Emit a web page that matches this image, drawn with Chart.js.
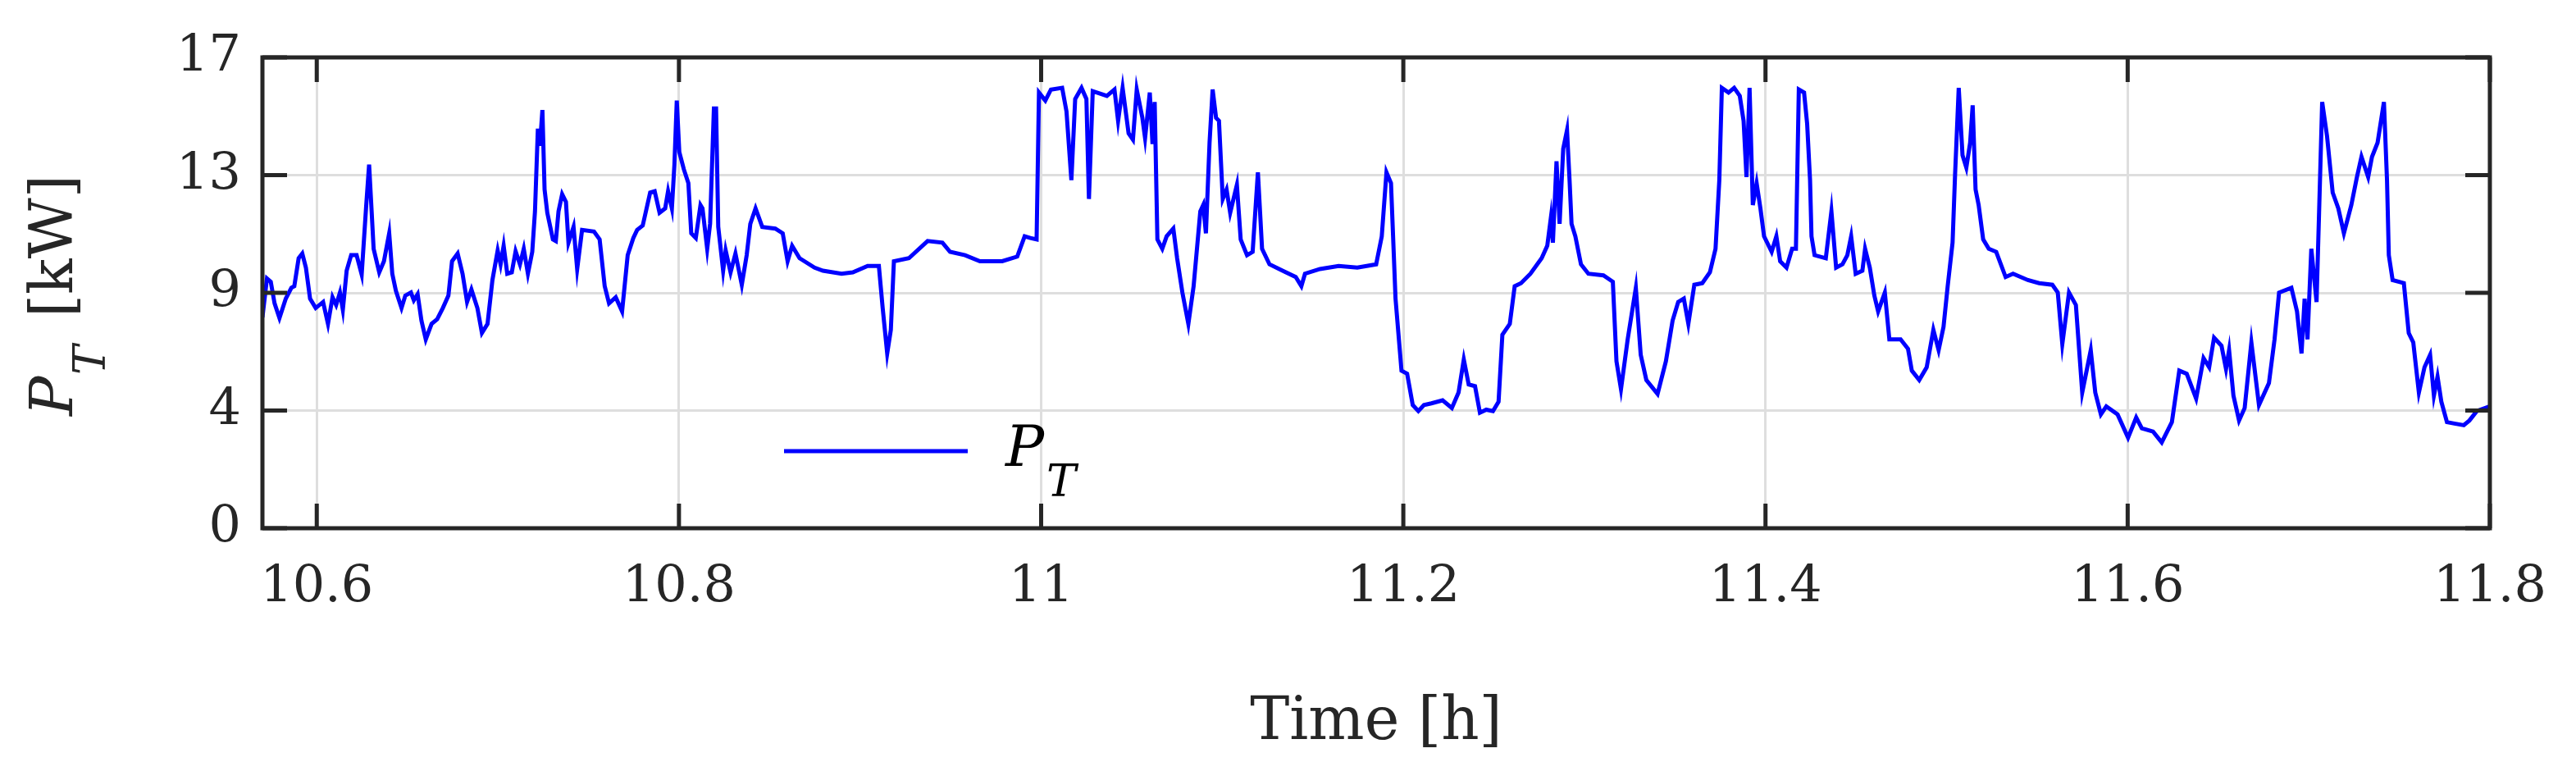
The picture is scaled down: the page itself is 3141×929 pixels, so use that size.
<!DOCTYPE html>
<html><head><meta charset="utf-8">
<script src="https://cdn.jsdelivr.net/npm/chart.js@4"></script>
<style>html,body{margin:0;padding:0;background:#fff}</style>
</head><body>
<canvas id="c" width="3141" height="929"></canvas>
<script>
const timeH = [10.570,10.5725,10.5746,10.5767,10.5794,10.5829,10.586,10.5876,10.590,10.592,10.594,10.5963,10.5994,10.6035,10.6062,10.6087,10.6107,10.6128,10.6144,10.6165,10.619,10.622,10.6248,10.6272,10.6289,10.6303,10.6314,10.6345,10.6371,10.64,10.6417,10.6437,10.6468,10.6489,10.652,10.6536,10.6557,10.6578,10.6602,10.6634,10.6665,10.6696,10.6727,10.6747,10.6778,10.6805,10.683,10.6854,10.6887,10.6912,10.6943,10.697,10.6999,10.7015,10.7032,10.7052,10.7077,10.7098,10.7122,10.7143,10.7166,10.719,10.7205,10.7221,10.7232,10.7246,10.7258,10.7273,10.7304,10.732,10.7335,10.7355,10.7376,10.739,10.7418,10.7438,10.7465,10.7531,10.7562,10.759,10.7614,10.7651,10.7686,10.7717,10.7748,10.7769,10.78,10.7841,10.7866,10.7893,10.7924,10.794,10.7961,10.7975,10.7988,10.8002,10.8027,10.8052,10.8068,10.8093,10.8119,10.813,10.8156,10.8172,10.8193,10.8205,10.8217,10.8244,10.8258,10.8285,10.8312,10.8347,10.8374,10.8394,10.8423,10.846,10.8532,10.8573,10.86,10.8625,10.8666,10.8749,10.8795,10.8898,10.896,10.9042,10.9104,10.9125,10.915,10.917,10.9187,10.927,10.9373,10.9455,10.9497,10.958,10.9662,10.9785,10.9868,10.9909,10.994,10.9975,10.9988,11.0023,11.0054,11.0116,11.0140,11.0167,11.0188,11.0223,11.025,11.0264,11.0285,11.0363,11.0405,11.0425,11.045,11.0483,11.0507,11.0528,11.0559,11.0574,11.06,11.0615,11.0627,11.0642,11.0669,11.0693,11.073,11.0751,11.078,11.0813,11.0842,11.0879,11.0895,11.091,11.093,11.0947,11.0966,11.0982,11.1003,11.1024,11.1044,11.1081,11.1102,11.1137,11.1168,11.1197,11.122,11.1261,11.1333,11.1406,11.1437,11.1457,11.154,11.1643,11.1746,11.185,11.1881,11.1907,11.1932,11.1957,11.199,11.2021,11.2052,11.2083,11.2114,11.2155,11.2217,11.2268,11.2305,11.2334,11.2361,11.2396,11.2423,11.2458,11.2495,11.2526,11.2547,11.2588,11.2615,11.265,11.2702,11.2764,11.2795,11.2815,11.2826,11.2846,11.2863,11.2883,11.2904,11.2918,11.2929,11.295,11.2981,11.3022,11.3105,11.3157,11.3177,11.3202,11.3239,11.3284,11.3311,11.3342,11.3404,11.345,11.3487,11.3518,11.3549,11.3574,11.3607,11.3651,11.3693,11.3724,11.3745,11.3759,11.3796,11.3827,11.3858,11.3879,11.3895,11.3912,11.393,11.3951,11.3972,11.3992,11.4034,11.406,11.4081,11.4116,11.4147,11.4168,11.4184,11.4213,11.423,11.4246,11.4254,11.4271,11.4333,11.4364,11.439,11.4425,11.4452,11.4473,11.4498,11.4535,11.455,11.4576,11.4601,11.4622,11.4659,11.4684,11.4746,11.4787,11.4808,11.4849,11.489,11.4927,11.4956,11.4983,11.5006,11.5033,11.5047,11.5067,11.5088,11.5109,11.513,11.5144,11.516,11.5177,11.5202,11.5233,11.5274,11.5326,11.5367,11.5449,11.5511,11.5584,11.5614,11.5639,11.5676,11.5714,11.5749,11.5796,11.5821,11.5852,11.5882,11.5944,11.6002,11.6047,11.6078,11.614,11.6188,11.6244,11.6285,11.6326,11.6378,11.6419,11.645,11.6477,11.6518,11.6543,11.656,11.6584,11.6615,11.6646,11.6683,11.6725,11.678,11.6811,11.6836,11.6904,11.6935,11.696,11.6977,11.6993,11.7014,11.7043,11.706,11.7074,11.7101,11.7132,11.7163,11.7194,11.7235,11.7266,11.7291,11.7328,11.7349,11.738,11.7415,11.7432,11.7442,11.7463,11.7525,11.7552,11.7577,11.7608,11.7639,11.767,11.7691,11.7711,11.7732,11.7763,11.7804,11.7856,11.7887,11.7928,11.8];
const powerKW = [7.61,9.02,8.9,8.12,7.59,8.29,8.68,8.74,9.75,9.92,9.41,8.29,7.95,8.17,7.38,8.34,8.06,8.51,7.89,9.3,9.86,9.86,9.16,11.55,13.13,11.44,10.09,9.24,9.64,10.65,9.19,8.57,7.95,8.40,8.51,8.23,8.45,7.5,6.82,7.38,7.55,7.95,8.40,9.64,9.92,9.19,8.17,8.62,7.95,7.05,7.38,8.96,10.03,9.53,10.2,9.19,9.24,10.0,9.53,10.09,9.19,9.98,11.44,14.43,13.81,15.1,12.23,11.39,10.43,10.37,11.44,12.06,11.78,10.31,10.88,9.36,10.77,10.71,10.43,8.74,8.12,8.34,7.83,9.86,10.48,10.77,10.93,12.12,12.17,11.39,11.55,12.17,11.55,13.13,15.44,13.58,12.96,12.46,10.65,10.48,11.67,11.55,10.09,10.99,15.16,15.16,10.88,9.3,10.03,9.24,9.92,8.79,9.86,10.99,11.55,10.88,10.82,10.65,9.64,10.2,9.75,9.41,9.3,9.19,9.24,9.47,9.47,7.95,6.31,7.16,9.64,9.75,10.37,10.31,9.98,9.86,9.64,9.64,9.81,10.54,10.48,10.43,15.73,15.44,15.84,15.9,15.05,12.57,15.5,15.9,15.5,11.89,15.78,15.61,15.84,14.71,15.9,14.26,14.03,15.84,14.82,14.09,15.73,13.87,15.39,10.43,10.09,10.54,10.82,9.75,8.51,7.38,8.74,11.44,11.67,10.65,13.92,15.84,14.82,14.71,11.89,12.23,11.39,12.4,10.43,9.86,9.98,12.85,10.09,9.53,9.3,9.07,8.74,9.19,9.36,9.47,9.41,9.53,10.54,12.85,12.46,8.29,5.69,5.58,4.45,4.23,4.45,4.51,4.62,4.34,4.9,6.09,5.19,5.13,4.17,4.28,4.23,4.57,6.99,7.38,8.74,8.85,9.19,9.75,10.2,11.22,10.31,13.25,10.99,13.7,14.37,12.57,10.99,10.54,9.53,9.19,9.13,8.9,6.03,5.02,6.82,8.68,6.26,5.35,4.85,6.03,7.5,8.17,8.29,7.38,8.79,8.85,9.24,10.09,12.57,15.9,15.73,15.9,15.61,14.71,12.68,15.9,11.67,12.46,11.55,10.54,9.98,10.54,9.64,9.41,10.09,10.09,15.84,15.73,14.6,12.57,10.54,9.86,9.75,11.44,9.41,9.53,9.86,10.54,9.19,9.3,10.09,9.41,8.4,7.83,8.51,6.82,6.82,6.48,5.69,5.35,5.81,7.16,6.43,7.27,8.74,10.31,12.8,15.9,13.47,13.02,13.92,15.27,12.23,11.67,10.43,10.09,9.98,9.07,9.19,8.96,8.85,8.79,8.51,6.65,8.51,8.06,4.9,6.43,4.9,4.11,4.4,4.11,3.27,4.0,3.61,3.49,3.1,3.83,5.69,5.58,4.68,6.14,5.81,6.88,6.59,5.75,6.43,4.79,3.89,4.34,6.71,4.45,5.24,6.82,8.51,8.68,7.83,6.31,8.29,6.82,10.09,8.17,12.12,15.39,14.15,12.12,11.55,10.65,11.67,12.68,13.41,12.68,13.41,13.92,15.39,12.57,9.86,8.96,8.85,7.05,6.71,4.9,5.81,6.26,4.79,5.47,4.57,3.83,3.78,3.72,3.89,4.23,4.4];
const xTickValues = [10.6,10.8,11.0,11.2,11.4,11.6,11.8];
const xTickLabels = ['10.6','10.8','11','11.2','11.4','11.6','11.8'];
const yTickValues = [0,4.25,8.5,12.75,17];
const yTickLabels = ['0','4','9','13','17'];

const FONT = '"DejaVu Serif", serif';
const pts = timeH.map((t,i)=>({x:t,y:powerKW[i]}));

const deco = {
  id:'deco',
  afterDraw(chart){
    const {ctx, chartArea:a, scales:{x,y}} = chart;
    ctx.save();
    ctx.strokeStyle='#262626'; ctx.lineWidth=5;
    const L=30;
    xTickValues.forEach(v=>{const px=x.getPixelForValue(v);
      ctx.beginPath();ctx.moveTo(px,a.bottom);ctx.lineTo(px,a.bottom-L);ctx.moveTo(px,a.top);ctx.lineTo(px,a.top+L);ctx.stroke();});
    yTickValues.forEach(v=>{const py=y.getPixelForValue(v);
      ctx.beginPath();ctx.moveTo(a.left,py);ctx.lineTo(a.left+L,py);ctx.moveTo(a.right,py);ctx.lineTo(a.right-L,py);ctx.stroke();});
    ctx.strokeRect(a.left,a.top,a.right-a.left,a.bottom-a.top);
    // legend
    ctx.strokeStyle='#0000ff'; ctx.lineWidth=5;
    ctx.beginPath();ctx.moveTo(956,550);ctx.lineTo(1180,550);ctx.stroke();
    ctx.fillStyle='#000'; ctx.textBaseline='alphabetic';
    ctx.font='italic 70px '+FONT; ctx.fillText('P',1226,568);
    ctx.font='italic 54px '+FONT; ctx.fillText('T',1276,605);
    // y title
    ctx.fillStyle='#262626';
    ctx.translate(88,357); ctx.rotate(-Math.PI/2);
    ctx.textAlign='left';
    ctx.font='italic 72px '+FONT; ctx.fillText('P',-150,0);
    ctx.font='italic 54px '+FONT; ctx.fillText('T',-100,40);
    ctx.font='72px '+FONT; ctx.fillText('[kW]',-30,0);
    ctx.restore();
  }
};

new Chart(document.getElementById('c'),{
  type:'line',
  data:{datasets:[{data:pts,borderColor:'#0000ff',borderWidth:5,pointRadius:0,tension:0,fill:false}]},
  options:{
    responsive:false,animation:false,devicePixelRatio:1,
    layout:{padding:{left:0,right:85,top:70,bottom:0}},
    plugins:{legend:{display:false},tooltip:{enabled:false}},
    scales:{
      x:{type:'linear',min:10.57,max:11.8,
        afterBuildTicks:s=>{s.ticks=xTickValues.map(v=>({value:v}));},
        afterFit:s=>{s.height=285;},
        ticks:{callback:(v,i)=>xTickLabels[i],font:{family:FONT,size:62},color:'#262626',padding:36,maxRotation:0},
        grid:{color:'#dedede',lineWidth:3,drawTicks:false},border:{display:false},
        title:{display:true,text:'Time [h]',font:{family:FONT,size:72},color:'#262626',padding:{top:26}}
      },
      y:{min:0,max:17,
        afterBuildTicks:s=>{s.ticks=yTickValues.map(v=>({value:v}));},
        afterFit:s=>{s.width=320;},
        ticks:{callback:(v,i)=>yTickLabels[i],font:{family:FONT,size:62},color:'#262626',padding:26},
        grid:{color:'#dedede',lineWidth:3,drawTicks:false},border:{display:false}
      }
    }
  },
  plugins:[deco]
});
</script>
</body></html>
